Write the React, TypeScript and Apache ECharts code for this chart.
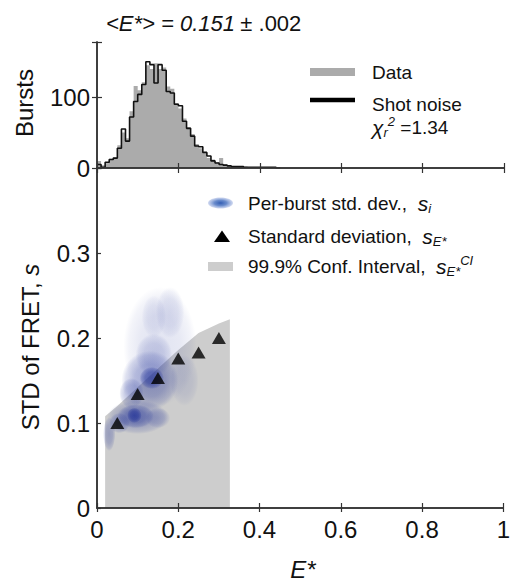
import { useEffect, useRef } from "react";
import * as echarts from "echarts";

// ---------------- data ----------------
const histBinWidth = 0.01;
// shot-noise prediction (black step line), bins of 0.01 starting at 0
const shotNoiseCounts = [
  5, 1, 8, 12, 14, 28, 55, 38, 72, 94, 104, 118, 150, 146, 120, 146, 138, 108,
  106, 90, 88, 66, 56, 45, 31, 30, 22, 17, 10, 7, 5, 4, 3, 2, 2, 2, 1, 1, 1, 1,
  1, 1, 1, 1, 0,
];
// measured data (grey histogram)
const dataCounts = [
  10, 4, 6, 13, 15, 32, 50, 42, 80, 116, 110, 121, 145, 140, 148, 140, 142, 115,
  112, 92, 84, 70, 58, 48, 34, 28, 24, 14, 12, 8, 14, 5, 3, 3, 2, 2, 2, 1, 1, 1,
  1, 0, 1, 0, 0,
];

// 99.9% confidence interval upper edge
const ciE = [0.02, 0.05, 0.1, 0.15, 0.2, 0.25, 0.3, 0.327];
const ciS = [0.108, 0.12, 0.142, 0.164, 0.186, 0.206, 0.217, 0.222];

// standard deviation s_E* (triangles)
const stdE = [0.05, 0.1, 0.15, 0.2, 0.25, 0.3];
const stdS = [0.1, 0.134, 0.153, 0.176, 0.183, 0.2];

// per-burst std. dev. density blobs: centre E, centre s, half-width E, half-height s, intensity
const blobE = [
  0.155, 0.18, 0.14, 0.215, 0.13, 0.14, 0.085, 0.135,
  0.1, 0.095, 0.15, 0.055, 0.03, 0.092,
];
const blobS = [
  0.19, 0.23, 0.225, 0.15, 0.15, 0.18, 0.135, 0.153,
  0.107, 0.108, 0.106, 0.1, 0.087, 0.109,
];
const blobRE = [
  0.09, 0.035, 0.03, 0.035, 0.07, 0.045, 0.03, 0.03,
  0.075, 0.045, 0.03, 0.025, 0.015, 0.018,
];
const blobRS = [
  0.07, 0.03, 0.025, 0.03, 0.035, 0.025, 0.018, 0.013,
  0.02, 0.014, 0.012, 0.012, 0.02, 0.009,
];
const blobAlpha = [
  0.13, 0.12, 0.1, 0.12, 0.36, 0.2, 0.3, 0.6,
  0.3, 0.45, 0.2, 0.3, 0.3, 0.65,
];

const xTicks = [0, 0.2, 0.4, 0.6, 0.8, 1];
const histTicks = [0, 100];
const stdTicks = [0, 0.1, 0.2, 0.3];

// ---------------- helpers ----------------
const FONT = "'Liberation Sans', Arial, Helvetica, sans-serif";
const AXIS_COLOR = "#333";
const TEXT_COLOR = "#111";

function stepData(counts: number[]): number[][] {
  const pts = counts.map((c, i) => [i * histBinWidth, c]);
  pts.push([counts.length * histBinWidth, counts[counts.length - 1]]);
  return pts;
}

function fmt(v: number): string {
  return String(Number(v.toFixed(2)));
}

const L = 97;
const GW = 407;
const TOP0 = 42;
const H0 = 126;
const TOP1 = 168;
const H1 = 340;

export default function App() {
  const ref = useRef<HTMLDivElement>(null);

  useEffect(() => {
    document.body.style.margin = "0";
    if (!ref.current) return;
    const chart = echarts.init(ref.current, undefined, { renderer: "svg" });

    const axisLine = { show: true, lineStyle: { color: AXIS_COLOR, width: 1.5 } };
    const tickStyle = { color: AXIS_COLOR, width: 1.2 };

    const xBase = {
      type: "value" as const,
      min: 0,
      max: 1,
      interval: 0.2,
      splitLine: { show: false },
      axisLine,
      z: 10,
    };

    const rich = {
      n: { fontSize: 19, fontFamily: FONT, color: TEXT_COLOR, lineHeight: 24 },
      it: { fontSize: 21, fontFamily: FONT, fontStyle: "italic", color: TEXT_COLOR, lineHeight: 24 },
      sub: { fontSize: 13, fontFamily: FONT, fontStyle: "italic", color: TEXT_COLOR, lineHeight: 13, verticalAlign: "bottom" },
      sup: { fontSize: 13, fontFamily: FONT, fontStyle: "italic", color: TEXT_COLOR, lineHeight: 13, verticalAlign: "top" },
    };

    const txt = (x: number, y: number, text: string, extra: any = {}) => ({
      type: "text",
      x,
      y,
      z: 100,
      ...extra,
      style: {
        text,
        fontSize: 19,
        fontFamily: FONT,
        fill: TEXT_COLOR,
        align: "left",
        verticalAlign: "middle",
        textAlign: "left",
        textVerticalAlign: "middle",
        rich,
        ...(extra.style || {}),
      },
    });

    const option: any = {
      animation: false,
      backgroundColor: "#fff",
      textStyle: { fontFamily: FONT },
      grid: [
        { left: L, top: TOP0, width: GW, height: H0 },
        { left: L, top: TOP1, width: GW, height: H1 },
      ],
      xAxis: [
        {
          ...xBase,
          gridIndex: 0,
          position: "bottom",
          axisTick: { show: true, inside: true, length: 5, lineStyle: tickStyle },
          axisLabel: { show: false },
        },
        {
          ...xBase,
          gridIndex: 0,
          position: "top",
          axisTick: { show: true, inside: true, length: 5, lineStyle: tickStyle },
          axisLabel: { show: false },
        },
        {
          ...xBase,
          gridIndex: 1,
          position: "bottom",
          axisTick: { show: true, inside: true, length: 5, lineStyle: tickStyle },
          axisLabel: {
            show: true,
            margin: 9,
            fontSize: 24,
            fontFamily: FONT,
            color: TEXT_COLOR,
            formatter: (v: number) => (xTicks.some((t) => Math.abs(t - v) < 1e-9) ? fmt(v) : ""),
          },
        },
        {
          ...xBase,
          gridIndex: 1,
          position: "top",
          axisTick: { show: true, inside: true, length: 4, lineStyle: tickStyle },
          axisLabel: { show: false },
        },
      ],
      yAxis: [
        {
          type: "value",
          gridIndex: 0,
          position: "left",
          min: 0,
          max: 178,
          interval: 100,
          splitLine: { show: false },
          axisLine,
          z: 10,
          axisTick: { show: true, inside: true, length: 5, lineStyle: tickStyle },
          axisLabel: {
            margin: 7,
            fontSize: 24,
            fontFamily: FONT,
            color: TEXT_COLOR,
            formatter: (v: number) => (histTicks.includes(v) ? String(v) : ""),
          },
        },
        {
          type: "value",
          gridIndex: 0,
          position: "right",
          min: 0,
          max: 178,
          interval: 100,
          splitLine: { show: false },
          axisLine,
          z: 10,
          axisTick: { show: true, inside: true, length: 5, lineStyle: tickStyle },
          axisLabel: { show: false },
        },
        {
          type: "value",
          gridIndex: 1,
          position: "left",
          min: 0,
          max: 0.4,
          interval: 0.1,
          splitLine: { show: false },
          axisLine,
          z: 10,
          axisTick: { show: true, inside: true, length: 4, lineStyle: tickStyle },
          axisLabel: {
            margin: 7,
            fontSize: 24,
            fontFamily: FONT,
            color: TEXT_COLOR,
            formatter: (v: number) => (stdTicks.some((t) => Math.abs(t - v) < 1e-9) ? fmt(v) : ""),
          },
        },
        {
          type: "value",
          gridIndex: 1,
          position: "right",
          min: 0,
          max: 0.4,
          interval: 0.1,
          splitLine: { show: false },
          axisLine,
          z: 10,
          axisTick: { show: false },
          axisLabel: { show: false },
        },
      ],
      series: [
        {
          name: "Data",
          type: "line",
          xAxisIndex: 0,
          yAxisIndex: 0,
          step: "end",
          data: stepData(dataCounts),
          showSymbol: false,
          lineStyle: { width: 0, opacity: 0 },
          areaStyle: { color: "#ababab", opacity: 1 },
          z: 2,
        },
        {
          name: "Shot noise",
          type: "line",
          xAxisIndex: 0,
          yAxisIndex: 0,
          step: "end",
          data: stepData(shotNoiseCounts),
          showSymbol: false,
          lineStyle: { width: 1.6, color: "#111" },
          z: 3,
        },
        {
          name: "99.9% Conf. Interval",
          type: "line",
          xAxisIndex: 2,
          yAxisIndex: 2,
          data: ciE.map((e, i) => [e, ciS[i]]),
          showSymbol: false,
          lineStyle: { width: 0, opacity: 0 },
          areaStyle: { color: "#cdcdcd", opacity: 1 },
          z: 2,
        },
        {
          name: "Per-burst std. dev.",
          type: "custom",
          xAxisIndex: 2,
          yAxisIndex: 2,
          encode: { x: 0, y: 1 },
          data: blobE.map((e, i) => [e, blobS[i], blobRE[i], blobRS[i], blobAlpha[i]]),
          renderItem: (_params: any, api: any) => {
            const c = api.coord([api.value(0), api.value(1)]);
            const sz = api.size([api.value(2), api.value(3)]);
            const a = api.value(4);
            return {
              type: "ellipse",
              shape: { cx: c[0], cy: c[1], rx: sz[0], ry: sz[1] },
              style: {
                fill: {
                  type: "radial",
                  x: 0.5,
                  y: 0.5,
                  r: 0.5,
                  colorStops: [
                    { offset: 0, color: `rgba(28,45,150,${a})` },
                    { offset: 0.55, color: `rgba(28,45,150,${a * 0.8})` },
                    { offset: 0.85, color: `rgba(28,45,150,${a * 0.4})` },
                    { offset: 1, color: "rgba(28,45,150,0)" },
                  ],
                },
              },
            };
          },
          z: 4,
        },
        {
          name: "Standard deviation",
          type: "scatter",
          xAxisIndex: 2,
          yAxisIndex: 2,
          data: stdE.map((e, i) => [e, stdS[i]]),
          symbol: "triangle",
          symbolSize: [14, 12],
          itemStyle: { color: "#000" },
          z: 6,
        },
      ],
      graphic: [
        // title
        txt(106, 23, "{t|<E*> = 0.151} {u|± .002}", {
          style: {
            rich: {
              t: { fontSize: 22, fontFamily: FONT, fontStyle: "italic", color: TEXT_COLOR },
              u: { fontSize: 22, fontFamily: FONT, color: TEXT_COLOR },
            },
          },
        }),
        // y-axis names
        txt(24, 103, "Bursts", {
          rotation: Math.PI / 2,
          style: { fontSize: 24, align: "center", textAlign: "center" },
        }),
        txt(30, 347, "{a|STD of FRET, }{b|s}", {
          rotation: Math.PI / 2,
          style: {
            align: "center",
            textAlign: "center",
            rich: {
              a: { fontSize: 24, fontFamily: FONT, color: TEXT_COLOR },
              b: { fontSize: 24, fontFamily: FONT, fontStyle: "italic", color: TEXT_COLOR },
            },
          },
        }),
        // x-axis name
        txt(303, 569, "E*", {
          style: { fontSize: 24, fontStyle: "italic", align: "center", textAlign: "center" },
        }),
        // histogram legend
        { type: "rect", z: 100, shape: { x: 310, y: 68, width: 45, height: 8 }, style: { fill: "#ababab" } },
        { type: "line", z: 100, shape: { x1: 310, y1: 100, x2: 355, y2: 100 }, style: { stroke: "#000", lineWidth: 4.5 } },
        txt(372, 72, "{n|Data}"),
        txt(372, 104, "{n|Shot noise}"),
        txt(372, 127, "{it|χ}{sub|r}{sup|2}{n| =1.34}"),
        // std legend
        {
          type: "ellipse",
          z: 100,
          shape: { cx: 220.5, cy: 203, rx: 12.5, ry: 5.5 },
          style: {
            fill: {
              type: "radial",
              x: 0.5,
              y: 0.5,
              r: 0.5,
              colorStops: [
                { offset: 0, color: "rgba(40,85,175,0.95)" },
                { offset: 0.5, color: "rgba(80,120,195,0.85)" },
                { offset: 1, color: "rgba(175,190,230,0.6)" },
              ],
            },
          },
        },
        txt(248, 203, "{n|Per-burst std. dev.,  }{it|s}{sub|i}"),
        {
          type: "polygon",
          z: 100,
          shape: { points: [[214, 242], [230, 242], [222, 230.5]] },
          style: { fill: "#000" },
        },
        txt(248, 236, "{n|Standard deviation,  }{it|s}{sub|E*}"),
        { type: "rect", z: 100, shape: { x: 208, y: 262, width: 25, height: 9 }, style: { fill: "#cdcdcd" } },
        txt(248, 266, "{n|99.9% Conf. Interval,  }{it|s}{sub|E*}{sup|CI}"),
      ],
    };

    chart.setOption(option);
    return () => chart.dispose();
  }, []);

  return <div ref={ref} style={{ width: 513, height: 581 }} />;
}
